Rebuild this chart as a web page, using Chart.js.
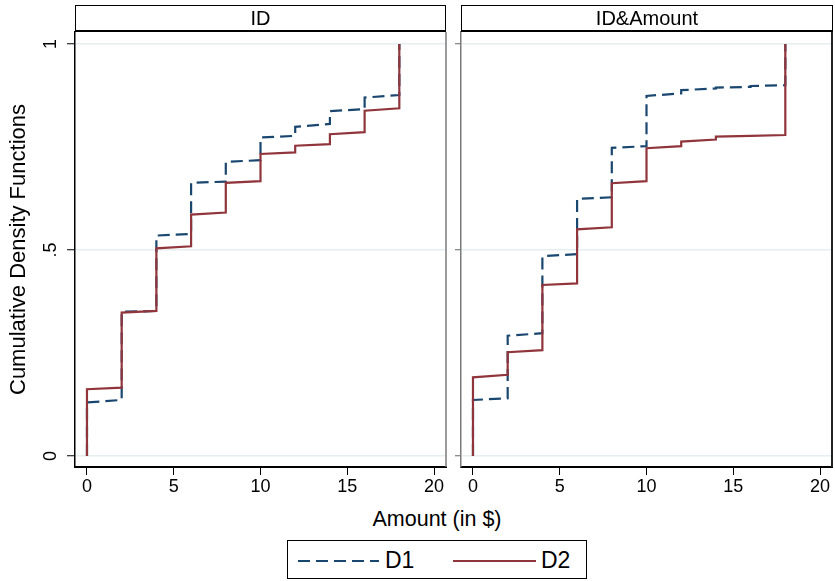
<!DOCTYPE html>
<html>
<head>
<meta charset="utf-8">
<script src="https://cdn.jsdelivr.net/npm/chart.js@4.4.0/dist/chart.umd.min.js"></script>
<style>
  body { margin: 0; background: #fff; font-family: "Liberation Sans", Arial, sans-serif; }
  #wrap { position: relative; width: 835px; height: 581px; overflow: hidden; }
  .cv { position: absolute; top: 0; }
  .strip {
    position: absolute; top: 5px; height: 27px; box-sizing: border-box;
    border: 1px solid #000; border-bottom: 2px solid #000;
    text-align: center; font-size: 20px; line-height: 25px; color: #000;
  }
  #xtitle { position: absolute; left: 337px; width: 200px; top: 507px; text-align: center; font-size: 21.5px; color: #000; }
  #legend {
    position: absolute; left: 287px; top: 540px; width: 300px; height: 39px; box-sizing: border-box;
    border: 1px solid #000; font-size: 23px; color: #000;
  }
  #legend svg { position: absolute; top: 0; }
  #legend span { position: absolute; top: 6px; }
</style>
</head>
<body>
<div id="wrap">
  <canvas id="idChart" class="cv" style="left:0px"></canvas>
  <canvas id="amtChart" class="cv" style="left:455px"></canvas>
  <div class="strip" style="left:75px; width:371px;">ID</div>
  <div class="strip" style="left:461px; width:372px;">ID&amp;Amount</div>
  <div id="xtitle">Amount (in $)</div>
  <div id="legend">
    <svg width="300" height="39"><line x1="10" y1="20" x2="91" y2="20" stroke="#1a476f" stroke-width="2.2" stroke-dasharray="12,6"/></svg>
    <span style="left:97px">D1</span>
    <svg width="300" height="39"><line x1="165" y1="20" x2="248" y2="20" stroke="#90353b" stroke-width="2.2"/></svg>
    <span style="left:253px">D2</span>
  </div>
</div>
<script>
// step points of the empirical CDFs (each amount appears twice: before and after the jump)
const stepX = [0, 0, 2, 2, 4, 4, 6, 6, 8, 8, 10, 10, 12, 12, 14, 14, 16, 16, 18, 18];

// panel "ID"
const idD1 = [0, .130, .136, .350, .352, .535, .539, .663, .666, .714, .718, .773, .777, .799, .806, .837, .842, .870, .876, 1];
const idD2 = [0, .162, .166, .348, .352, .504, .509, .586, .591, .663, .667, .733, .737, .753, .757, .781, .786, .838, .844, 1];

// panel "ID&Amount"
const amtD1 = [0, .136, .140, .292, .298, .485, .490, .624, .628, .748, .752, .874, .880, .888, .892, .894, .896, .898, .900, 1];
const amtD2 = [0, .191, .197, .252, .257, .415, .419, .550, .555, .662, .667, .747, .752, .763, .768, .775, .777, .777, .779, 1];

const xTicks = [0, 5, 10, 15, 20];
const yTicks = [0, 0.5, 1];
const yLabels = { 0: '0', 0.5: '.5', 1: '1' };

const navy = '#1a476f';
const maroon = '#90353b';
const FONT = '"Liberation Sans", Arial, sans-serif';

function toPoints(ys) {
  return ys.map((y, i) => ({ x: stepX[i], y: y }));
}

// draws the right edge of the plot region
const panelFrame = {
  id: 'panelFrame',
  afterDraw(chart, args, opts) {
    const a = chart.chartArea;
    const ctx = chart.ctx;
    ctx.save();
    ctx.strokeStyle = opts.color;
    ctx.lineWidth = opts.width;
    ctx.beginPath();
    ctx.moveTo(a.right, a.top);
    ctx.lineTo(a.right, a.bottom);
    ctx.stroke();
    ctx.restore();
  }
};

function makeChart(id, width, d1, d2, isLeft) {
  const canvas = document.getElementById(id);
  canvas.width = width;
  canvas.height = 500;
  canvas.style.width = width + 'px';
  canvas.style.height = '500px';

  return new Chart(canvas, {
    type: 'line',
    data: {
      datasets: [
        { label: 'D1', data: toPoints(d1), borderColor: navy, borderWidth: 2.2, borderDash: [12, 6], pointRadius: 0, tension: 0, order: 1 },
        { label: 'D2', data: toPoints(d2), borderColor: maroon, borderWidth: 2.2, pointRadius: 0, tension: 0, order: 0 },
      ]
    },
    options: {
      responsive: false,
      animation: false,
      devicePixelRatio: 1,
      layout: { padding: { top: 32, right: isLeft ? 4 : 3, left: 0, bottom: 0 } },
      plugins: {
        legend: { display: false },
        tooltip: { enabled: false },
        panelFrame: { color: isLeft ? '#7a7a7a' : '#222', width: isLeft ? 1.5 : 2 },
      },
      scales: {
        x: {
          type: 'linear',
          min: -0.69,
          max: 20.69,
          afterBuildTicks: (s) => { s.ticks = xTicks.map(v => ({ value: v })); },
          afterFit: (s) => { s.height = 33; },
          grid: { drawOnChartArea: false, tickLength: 8, tickColor: '#000', tickWidth: 1 },
          border: { color: '#000', width: 2 },
          ticks: { color: '#000', font: { family: FONT, size: 18 }, padding: 1, maxRotation: 0 },
        },
        y: {
          type: 'linear',
          min: -0.0267,
          max: 1.0291,
          afterBuildTicks: (s) => { s.ticks = yTicks.map(v => ({ value: v })); },
          afterFit: (s) => { s.width = isLeft ? 75 : 6; },
          grid: { color: '#e6eef0', lineWidth: 1.5, tickLength: isLeft ? 8 : 6, tickColor: isLeft ? '#000' : '#666', tickWidth: 1 },
          border: { color: isLeft ? '#000' : '#7a7a7a', width: 1.5 },
          ticks: {
            display: isLeft,
            color: '#000',
            font: { family: FONT, size: 18 },
            minRotation: 90,
            maxRotation: 90,
            crossAlign: 'center',
            padding: 8,
            callback: (v) => yLabels[v],
          },
          title: {
            display: isLeft,
            text: 'Cumulative Density Functions',
            color: '#000',
            font: { family: FONT, size: 22 },
            padding: { top: 6, bottom: 0 },
          },
        }
      }
    },
    plugins: [panelFrame]
  });
}

makeChart('idChart', 450, idD1, idD2, true);
makeChart('amtChart', 380, amtD1, amtD2, false);
</script>
</body>
</html>
